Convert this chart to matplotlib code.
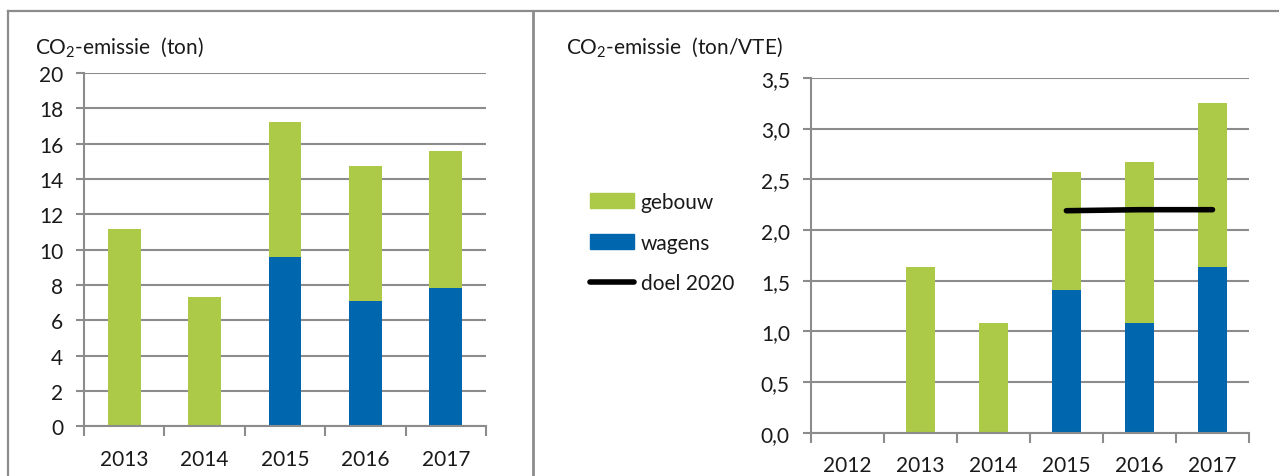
import matplotlib
matplotlib.use("Agg")
import matplotlib.pyplot as plt
from matplotlib.patches import Patch
from matplotlib.lines import Line2D
import numpy as np

plt.rcParams['font.family'] = ['Lato', 'DejaVu Sans']
plt.rcParams['mathtext.fontset'] = 'custom'
plt.rcParams['mathtext.rm'] = 'Lato'
plt.rcParams['mathtext.it'] = 'Lato'

# linker grafiek: totale uitstoot
jaren_l = ['2013', '2014', '2015', '2016', '2017']
wagens_l = [0, 0, 9.6, 7.1, 7.85]
gebouw_l = [11.15, 7.35, 7.65, 7.65, 7.75]

# rechter grafiek: uitstoot per VTE
jaren_r = ['2012', '2013', '2014', '2015', '2016', '2017']
wagens_r = [0, 0, 0, 1.41, 1.08, 1.64]
gebouw_r = [0, 1.64, 1.08, 1.16, 1.59, 1.61]
doel_jaren = ['2015', '2016', '2017']
doel = [2.19, 2.2, 2.2]

groen = '#acc947'
blauw = '#0066ad'
grijs = '#8c8c8c'
tekst = '#1a1a1a'
fs = 15

W, H = 1279, 477
fig = plt.figure(figsize=(W/100, H/100), dpi=100)

def px(x0, y0, x1, y1):
    return [x0/W, 1-y1/H, (x1-x0)/W, (y1-y0)/H]

# kaders
fig.add_artist(Line2D([8/W, 8/W], [0, 1-12/H], color=grijs, lw=1.6))
fig.add_artist(Line2D([8/W, 1], [1-12/H, 1-12/H], color=grijs, lw=1.6))
fig.add_artist(Line2D([533/W, 533/W], [0, 1-12/H], color=grijs, lw=2))

def opmaak(ax, n, ymax, step):
    ax.set_xlim(-0.5, n-0.5)
    ax.set_ylim(0, ymax)
    for s in ['top', 'right']:
        ax.spines[s].set_visible(False)
    for s in ['left', 'bottom']:
        ax.spines[s].set_color(grijs)
        ax.spines[s].set_linewidth(1.5)
    ax.set_axisbelow(True)
    ax.yaxis.grid(True, color=grijs, lw=1.5)
    ax.set_yticks(np.arange(0, ymax+step/2, step))
    ax.tick_params(axis='y', length=6, width=1.5, color=grijs, pad=9,
                   labelsize=fs, labelcolor=tekst)
    ax.set_xticks(np.arange(n))
    ax.set_xticks(np.arange(-0.5, n), minor=True)
    ax.tick_params(axis='x', which='major', length=0, pad=16,
                   labelsize=fs, labelcolor=tekst)
    ax.tick_params(axis='x', which='minor', length=7, width=1.5, color=grijs)

ax1 = fig.add_axes(px(84, 74, 486, 427.4))
x = np.arange(len(jaren_l))
ax1.bar(x, wagens_l, 0.41, color=blauw)
ax1.bar(x, gebouw_l, 0.41, bottom=wagens_l, color=groen)
opmaak(ax1, len(jaren_l), 20, 2)
ax1.set_xticklabels(jaren_l)
fig.text(35/W, 1-47/H, 'CO$_2$-emissie  (ton)', fontsize=fs, color=tekst, va='center')

ax2 = fig.add_axes(px(810.7, 78.8, 1249, 433.9))
x = np.arange(len(jaren_r))
ax2.bar(x, wagens_r, 0.40, color=blauw)
ax2.bar(x, gebouw_r, 0.40, bottom=wagens_r, color=groen)
xd = [jaren_r.index(j) for j in doel_jaren]
ax2.plot(xd, doel, color='black', lw=4, solid_capstyle='round')
opmaak(ax2, len(jaren_r), 3.5, 0.5)
ax2.set_xticklabels(jaren_r)
ax2.set_yticklabels([f'{v:.1f}'.replace('.', ',') for v in np.arange(0, 3.51, 0.5)])
fig.text(566/W, 1-47/H, 'CO$_2$-emissie  (ton/VTE)', fontsize=fs, color=tekst, va='center')

handles = [Patch(color=groen), Patch(color=blauw),
           Line2D([0], [0], color='black', lw=4, solid_capstyle='round')]
fig.legend(handles, ['gebouw', 'wagens', 'doel 2020'], loc='upper left',
           bbox_to_anchor=(571/W, 1-174/H), frameon=False, fontsize=fs,
           handlelength=2.1, handletextpad=0.35, labelspacing=1.0,
           labelcolor=tekst)

fig.savefig('out.png', dpi=100)
